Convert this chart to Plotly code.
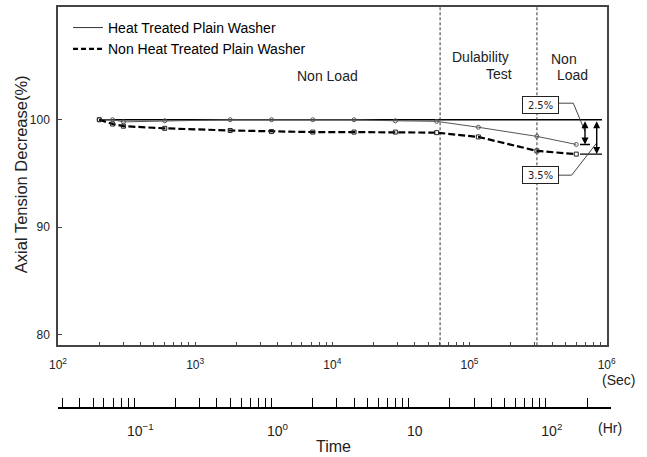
import math
import plotly.graph_objects as go

# ---------------- data ----------------
TIME_SEC = [200, 250, 300, 600, 1800, 3600, 7200, 14400, 28800, 57600, 116000, 310000, 600000]
HEAT_TREATED = [100.0, 100.0, 99.8, 99.9, 100.0, 100.0, 100.0, 100.0, 99.9, 99.85, 99.3, 98.45, 97.7]
NON_HEAT_TREATED = [100.0, 99.6, 99.4, 99.2, 99.0, 98.9, 98.85, 98.85, 98.85, 98.8, 98.4, 97.1, 96.8]
SERIES_NAMES = ["Heat Treated Plain Washer", "Non Heat Treated Plain Washer"]

PHASE_BOUNDARIES_SEC = [61000, 310000]
REF_LEVEL = 100
REF_END_SEC = 924000
DECREASE_LABELS = ["2.5%", "3.5%"]

Y_TICKS = [80, 90, 100]
SEC_DECADES = [2, 3, 4, 5, 6]
HR_DECADE_LABELS = {0.1: "10<sup>\u22121</sup>", 1: "10<sup>0</sup>", 10: "10", 100: "10<sup>2</sup>"}
HR_TICK_HOURS = ([k * 0.01 for k in range(3, 10)] + [k * 0.1 for k in range(1, 10)] +
                 [k * 1 for k in range(1, 10)] + [k * 10 for k in range(1, 10)] + [100, 200, 300])

# ---------------- layout constants ----------------
FONT = "Liberation Sans"
NARROW = "Liberation Sans Narrow, DejaVu Sans Condensed, Liberation Sans"
W, H = 647, 457
ML, MR, MT, MB = 58, 36, 5, 50
PW, PH = W - ML - MR, H - MT - MB
X_MAIN_RIGHT = 606.7
DEC_PX = (X_MAIN_RIGHT - ML) / 4.0
Y_MIN, Y_MAX = 79.01, 110.49


def px_x(px):
    return (px - ML) / PW


def px_y(py):
    return (H - MB - py) / PH


def px_logx(px):
    return 2 + (px - ML) / DEC_PX


fig = go.Figure()

# reference level line (100 %)
fig.add_trace(go.Scatter(x=[TIME_SEC[0], REF_END_SEC], y=[REF_LEVEL, REF_LEVEL], mode="lines",
                         line=dict(color="black", width=1.6), showlegend=False, hoverinfo="skip"))

# phase boundaries
for b in PHASE_BOUNDARIES_SEC:
    fig.add_trace(go.Scatter(x=[b, b], y=[Y_MIN, Y_MAX], mode="lines",
                             line=dict(color="#333", width=1, dash="3px,2px"),
                             showlegend=False, hoverinfo="skip"))

# final level marks
fig.add_trace(go.Scatter(x=[10 ** px_logx(580), 10 ** px_logx(590)], y=[HEAT_TREATED[-1]] * 2, mode="lines",
                         line=dict(color="black", width=1.4), showlegend=False, hoverinfo="skip"))
fig.add_trace(go.Scatter(x=[10 ** px_logx(580), REF_END_SEC], y=[NON_HEAT_TREATED[-1]] * 2, mode="lines",
                         line=dict(color="black", width=1.4), showlegend=False, hoverinfo="skip"))

# data series
fig.add_trace(go.Scatter(x=TIME_SEC, y=HEAT_TREATED, mode="lines+markers", name=SERIES_NAMES[0],
                         line=dict(color="#555", width=1),
                         marker=dict(symbol="circle-open", size=4, color="#555", line=dict(width=1)),
                         showlegend=False))
fig.add_trace(go.Scatter(x=TIME_SEC, y=NON_HEAT_TREATED, mode="lines+markers", name=SERIES_NAMES[1],
                         line=dict(color="black", width=2.2, dash="7px,3px"),
                         marker=dict(symbol="square-open", size=4, color="#222", line=dict(width=1)),
                         showlegend=False))

# legend entries (line only)
fig.add_trace(go.Scatter(x=[None], y=[None], mode="lines", name=SERIES_NAMES[0],
                         line=dict(color="#333", width=1)))
fig.add_trace(go.Scatter(x=[None], y=[None], mode="lines", name=SERIES_NAMES[1],
                         line=dict(color="black", width=2.2, dash="5px,3px")))

# dummy trace for the hour axis
fig.add_trace(go.Scatter(x=[3600], y=[-1], xaxis="x2", yaxis="y2", mode="markers",
                         marker=dict(opacity=0), showlegend=False, hoverinfo="skip"))

sec_tickvals, sec_ticktext = [], []
for d in SEC_DECADES:
    sec_tickvals.append(10 ** d)
    sec_ticktext.append("10<sup>%d</sup>" % d)
    if d < SEC_DECADES[-1]:
        for k in range(2, 10):
            sec_tickvals.append(k * 10 ** d)
            sec_ticktext.append("")

hr_tickvals = [h * 3600 for h in HR_TICK_HOURS]
hr_ticktext = []
for h in HR_TICK_HOURS:
    lab = ""
    for key, txt_ in HR_DECADE_LABELS.items():
        if abs(h - key) < 1e-9:
            lab = txt_
    hr_ticktext.append(lab)

main_x_dom = (X_MAIN_RIGHT - ML) / PW
main_y_bottom = px_y(345)

annotations = []


def txt(s, x, y, size=14, **kw):
    d = dict(text=s, x=px_x(x), y=px_y(y), xref="paper", yref="paper", showarrow=False,
             font=dict(family=FONT, size=size, color="#222"), xanchor="center", yanchor="middle")
    d.update(kw)
    annotations.append(d)


txt("Non Load", 327, 74)
txt("Dulability", 480, 55)
txt("Test", 499, 72)
txt("Non", 564, 57)
txt("Load", 572, 73)
txt("(Sec)", 618, 380, size=14)
txt("(Hr)", 610, 428, size=14)
txt("Time", 333, 447, size=16)
txt("Axial Tension Decrease(%)", 21, 173, size=16.5, textangle=-90)

for lab, cy in zip(DECREASE_LABELS, [103.3, 174]):
    annotations.append(dict(text=lab, x=px_x(540), y=px_y(cy), xref="paper", yref="paper",
                            showarrow=False, font=dict(family=NARROW, size=11, color="#222"),
                            bordercolor="#222", borderwidth=1, borderpad=2, bgcolor="white",
                            width=31, height=12, xanchor="center", yanchor="middle"))

for xpx, yend in [(585, HEAT_TREATED[-1]), (596.7, NON_HEAT_TREATED[-1])]:
    lx = px_logx(xpx)
    annotations.append(dict(text="", x=lx, y=yend, ax=lx, ay=REF_LEVEL, xref="x", yref="y",
                            axref="x", ayref="y", showarrow=True, arrowhead=2, startarrowhead=2,
                            arrowside="end+start", arrowsize=1, arrowwidth=1.4, arrowcolor="black",
                            standoff=0, startstandoff=0))

shapes = []
for pts in [[(558.3, 101.7), (573.3, 101.7), (585, 130)], [(558.3, 174), (571.7, 174), (596.7, 141.7)]]:
    path = "M " + " L ".join("%.4f,%.4f" % (px_x(a), px_y(b)) for a, b in pts)
    shapes.append(dict(type="path", path=path, xref="paper", yref="paper",
                       line=dict(color="#444", width=1)))

fig.update_layout(
    width=W, height=H,
    margin=dict(l=ML, r=MR, t=MT, b=MB),
    paper_bgcolor="white", plot_bgcolor="rgba(0,0,0,0)",
    font=dict(family=FONT, color="#222"),
    showlegend=True,
    legend=dict(x=px_x(68), y=px_y(10), xanchor="left", yanchor="top",
                font=dict(family=FONT, size=14, color="black"), bgcolor="rgba(0,0,0,0)",
                itemwidth=30, tracegroupgap=0),
    xaxis=dict(type="log", range=[2, 6], domain=[0, main_x_dom], anchor="y",
               tickmode="array", tickvals=sec_tickvals, ticktext=sec_ticktext,
               ticks="inside", ticklen=4, tickwidth=1, tickcolor="#444",
               showline=True, linecolor="#444", linewidth=1.5, mirror=True,
               showgrid=False, zeroline=False, ticklabelstandoff=8,
               tickfont=dict(family=FONT, size=12, color="#222")),
    yaxis=dict(range=[Y_MIN, Y_MAX], domain=[main_y_bottom, 1], anchor="x",
               tickmode="array", tickvals=Y_TICKS, ticks="inside", ticklen=4, tickwidth=1,
               tickcolor="#444", showline=True, linecolor="#444", linewidth=1.5, mirror=True,
               showgrid=False, zeroline=False, ticklabelstandoff=4,
               tickfont=dict(family=FONT, size=12, color="#222")),
    xaxis2=dict(type="log", range=[2, 2 + PW / DEC_PX], domain=[0, 1], anchor="y2",
                tickmode="array", tickvals=hr_tickvals, ticktext=hr_ticktext,
                ticks="inside", ticklen=9, tickwidth=1.2, tickcolor="black",
                showline=True, linecolor="black", linewidth=1.5,
                showgrid=False, zeroline=False, ticklabelstandoff=10, ticklabelshift=6,
                tickfont=dict(family=FONT, size=14, color="#222")),
    yaxis2=dict(domain=[0, 0.002], range=[0, 1], visible=False, anchor="x2"),
    annotations=annotations,
    shapes=shapes,
)

fig.write_html("out.html", config={"displayModeBar": False},
               post_script="document.body.style.margin='0px';document.body.style.overflow='hidden';")
